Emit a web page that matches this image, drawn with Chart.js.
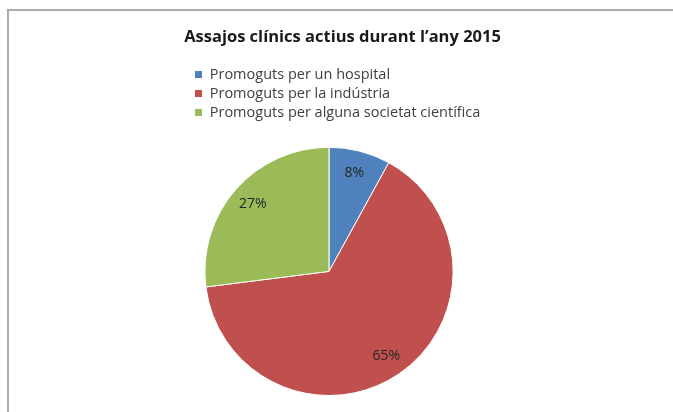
<!DOCTYPE html>
<html>
<head>
<meta charset="utf-8">
<script src="https://cdn.jsdelivr.net/npm/chart.js@4"></script>
<style>
    html, body { margin: 0; padding: 0; background: #fff; }
    #wrap { position: relative; width: 673px; height: 412px; overflow: hidden; }
    #frame {
        position: absolute; left: 7px; top: 9px; right: -10px; bottom: -10px;
        border-left: 2px solid #ababab; border-top: 2px solid #ababab;
    }
    #pieChart { position: absolute; left: 0; top: 0; }
</style>
</head>
<body>
<div id="wrap">
    <div id="frame"></div>
    <canvas id="pieChart" width="673" height="412"></canvas>
</div>
<script>
// dades del gràfic
var categories = ['Promoguts per un hospital', 'Promoguts per la indústria', 'Promoguts per alguna societat científica'];
var percentages = [8, 65, 27];
var sliceColors = ['#4F81BD', '#C0504D', '#9BBB59'];
var chartTitle = 'Assajos clínics actius durant l\u2019any 2015';

var FONT = '"Open Sans", "Liberation Sans", Arial, sans-serif';

// etiquetes de percentatge dins de cada porció
var pieLabels = {
    id: 'pieLabels',
    afterDatasetsDraw: function (chart) {
        var ctx = chart.ctx;
        var meta = chart.getDatasetMeta(0);
        ctx.save();
        ctx.font = '14px ' + FONT;
        ctx.fillStyle = '#262626';
        ctx.textAlign = 'center';
        ctx.textBaseline = 'middle';
        meta.data.forEach(function (arc, i) {
            var p = arc.getProps(['x', 'y', 'startAngle', 'endAngle', 'outerRadius'], true);
            var mid = (p.startAngle + p.endAngle) / 2;
            var r = p.outerRadius * 0.82;
            ctx.fillText(percentages[i] + '%', p.x + Math.cos(mid) * r, p.y + Math.sin(mid) * r);
        });
        ctx.restore();
    }
};

// el títol i la llegenda són més amples que el pastís i el títol no hi està centrat
var layoutTweaks = {
    id: 'layoutTweaks',
    afterLayout: function (chart) {
        chart.titleBlock.left -= 20;
        chart.titleBlock.right += 47;
        chart.legend.right += 80;
        chart.legend.width += 80;
    }
};

document.addEventListener("DOMContentLoaded", function () {
    var ctx = document.getElementById('pieChart').getContext('2d');

    var pieChart = new Chart(ctx, {
        type: 'pie',
        data: {
            labels: categories,
            datasets: [{
                data: percentages,
                backgroundColor: sliceColors,
                borderColor: '#ffffff',
                borderWidth: 1,
                hoverOffset: 0
            }]
        },
        options: {
            responsive: false,
            animation: false,
            devicePixelRatio: 1,
            layout: {
                padding: { top: 17, bottom: 16, left: 190, right: 205 }
            },
            plugins: {
                title: {
                    display: true,
                    text: chartTitle,
                    color: '#1a1a1a',
                    font: { family: FONT, size: 16.5, weight: 'bold' },
                    padding: { top: 10, bottom: 16 }
                },
                // espai buit entre la llegenda i el pastís
                subtitle: {
                    display: true,
                    text: '',
                    weight: 500,
                    font: { size: 10, lineHeight: 1 },
                    padding: { top: 0, bottom: 7 }
                },
                legend: {
                    position: 'top',
                    align: 'start',
                    labels: {
                        boxWidth: 8,
                        boxHeight: 8,
                        padding: 4.5,
                        color: '#404040',
                        font: { family: FONT, size: 14.5 }
                    }
                },
                tooltip: { enabled: false }
            }
        },
        plugins: [pieLabels, layoutTweaks]
    });
});
</script>
</body>
</html>
